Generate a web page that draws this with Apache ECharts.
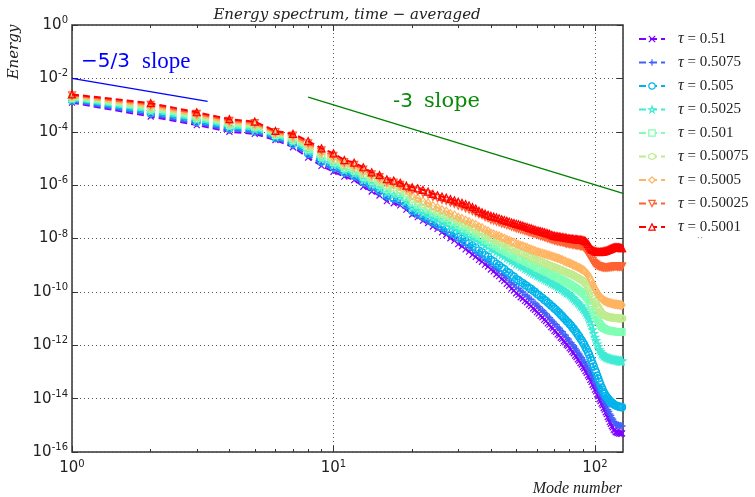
<!DOCTYPE html>
<html>
<head>
<meta charset="utf-8">
<script src="https://cdn.jsdelivr.net/npm/echarts@6.0.0/dist/echarts.min.js"></script>
<style>html,body{margin:0;padding:0;background:#fff;}#chart{width:755px;height:497px;}</style>
</head>
<body>
<div id="chart"></div>
<script>
// ---- Data (mode number k, log10 of energy) ----
const modes = [1,2,3,4,5,6,7,8,9,10,11,12,13,14,15,16,17,18,19,20,21,22,23,24,25,26,27,28,29,30,31,32,33,34,35,36,37,38,39,40,41,42,43,44,45,46,47,48,49,50,51,52,53,54,55,56,57,58,59,60,61,62,63,64,65,66,67,68,69,70,71,72,73,74,75,76,77,78,79,80,81,82,83,84,85,86,87,88,89,90,91,92,93,94,95,96,97,98,99,100,101,102,103,104,105,106,107,108,109,110,111,112,113,114,115,116,117,118,119,120,121,122,123,124,125,126,127];

const tauValues = ['0.51','0.5075','0.505','0.5025','0.501','0.50075','0.5005','0.50025','0.5001'];

const logE_0_51 = [-2.91,-3.43,-3.75,-4.00,-4.08,-4.31,-4.58,-4.97,-5.28,-5.50,-5.68,-5.81,-6.06,
-6.24,-6.39,-6.60,-6.68,-6.76,-6.92,-7.10,
-7.20,-7.33,-7.42,-7.55,-7.64,-7.77,-7.86,-7.99,-8.08,-8.21,
-8.29,-8.41,-8.49,-8.61,-8.69,-8.80,-8.87,-8.98,-9.05,-9.16,
-9.23,-9.34,-9.41,-9.52,-9.59,-9.70,-9.77,-9.88,-9.95,-10.05,
-10.11,-10.20,-10.25,-10.34,-10.39,-10.48,-10.53,-10.62,-10.67,-10.76,
-10.81,-10.90,-10.95,-11.04,-11.09,-11.18,-11.23,-11.32,-11.37,-11.46,
-11.50,-11.59,-11.63,-11.72,-11.76,-11.85,-11.89,-11.98,-12.02,-12.11,
-12.16,-12.25,-12.30,-12.39,-12.44,-12.53,-12.58,-12.67,-12.72,-12.81,
-12.87,-12.97,-13.03,-13.13,-13.19,-13.30,-13.37,-13.48,-13.55,-13.66,
-13.73,-13.84,-13.91,-14.02,-14.09,-14.19,-14.25,-14.35,-14.41,-14.51,
-14.58,-14.69,-14.76,-14.87,-14.94,-15.03,-15.08,-15.16,-15.19,-15.25,
-15.26,-15.29,-15.28,-15.31,-15.29,-15.32,-15.30];

const logE_0_5075 = [-2.87,-3.37,-3.69,-3.94,-4.02,-4.27,-4.52,-4.89,-5.20,-5.41,-5.60,-5.73,-5.97,
-6.15,-6.31,-6.50,-6.59,-6.67,-6.84,-7.05,
-7.15,-7.27,-7.36,-7.48,-7.58,-7.68,-7.77,-7.88,-7.96,-8.07,
-8.15,-8.26,-8.34,-8.44,-8.52,-8.62,-8.69,-8.80,-8.87,-8.98,
-9.05,-9.15,-9.22,-9.32,-9.39,-9.49,-9.56,-9.66,-9.73,-9.82,
-9.88,-9.96,-10.01,-10.09,-10.15,-10.23,-10.28,-10.37,-10.42,-10.50,
-10.55,-10.64,-10.69,-10.77,-10.82,-10.91,-10.96,-11.05,-11.10,-11.18,
-11.23,-11.31,-11.36,-11.44,-11.49,-11.58,-11.62,-11.71,-11.76,-11.85,
-11.90,-11.98,-12.04,-12.12,-12.18,-12.26,-12.32,-12.41,-12.46,-12.55,
-12.61,-12.70,-12.76,-12.86,-12.93,-13.03,-13.10,-13.20,-13.27,-13.38,
-13.45,-13.55,-13.62,-13.72,-13.80,-13.90,-13.97,-14.07,-14.14,-14.24,
-14.31,-14.41,-14.48,-14.57,-14.63,-14.72,-14.77,-14.85,-14.89,-14.95,
-14.97,-15.00,-14.99,-15.02,-15.01,-15.03,-15.02];

const logE_0_505 = [-2.83,-3.31,-3.63,-3.88,-3.97,-4.23,-4.46,-4.82,-5.12,-5.33,-5.53,-5.65,-5.88,
-6.05,-6.22,-6.40,-6.49,-6.58,-6.74,-6.97,
-7.06,-7.18,-7.26,-7.38,-7.47,-7.57,-7.65,-7.76,-7.83,-7.94,
-8.01,-8.11,-8.18,-8.28,-8.35,-8.45,-8.52,-8.62,-8.69,-8.80,
-8.86,-8.95,-9.01,-9.09,-9.15,-9.24,-9.29,-9.38,-9.43,-9.52,
-9.56,-9.63,-9.67,-9.74,-9.78,-9.85,-9.89,-9.96,-10.00,-10.08,
-10.12,-10.19,-10.23,-10.30,-10.34,-10.41,-10.45,-10.52,-10.56,-10.63,
-10.67,-10.74,-10.79,-10.86,-10.91,-10.98,-11.03,-11.10,-11.14,-11.21,
-11.26,-11.34,-11.39,-11.47,-11.53,-11.61,-11.67,-11.76,-11.82,-11.91,
-11.98,-12.08,-12.16,-12.26,-12.35,-12.47,-12.57,-12.69,-12.79,-12.92,
-13.02,-13.14,-13.25,-13.37,-13.47,-13.58,-13.66,-13.76,-13.82,-13.90,
-13.94,-14.00,-14.04,-14.09,-14.12,-14.16,-14.18,-14.22,-14.23,-14.26,
-14.27,-14.29,-14.29,-14.31,-14.30,-14.33,-14.32];

const logE_0_5025 = [-2.80,-3.24,-3.57,-3.83,-3.91,-4.18,-4.39,-4.74,-5.03,-5.24,-5.45,-5.57,-5.79,
-5.95,-6.11,-6.28,-6.36,-6.45,-6.60,-6.85,
-6.93,-7.04,-7.11,-7.22,-7.29,-7.38,-7.44,-7.54,-7.59,-7.68,
-7.74,-7.82,-7.88,-7.96,-8.02,-8.10,-8.15,-8.24,-8.29,-8.38,
-8.42,-8.49,-8.54,-8.61,-8.66,-8.73,-8.77,-8.84,-8.88,-8.95,
-8.98,-9.04,-9.07,-9.13,-9.16,-9.22,-9.25,-9.31,-9.33,-9.39,
-9.41,-9.46,-9.48,-9.53,-9.55,-9.60,-9.62,-9.67,-9.69,-9.73,
-9.76,-9.81,-9.83,-9.88,-9.91,-9.96,-9.99,-10.04,-10.06,-10.11,
-10.15,-10.21,-10.25,-10.31,-10.35,-10.41,-10.45,-10.52,-10.56,-10.63,
-10.68,-10.76,-10.83,-10.92,-11.01,-11.14,-11.27,-11.42,-11.56,-11.70,
-11.82,-11.95,-12.05,-12.16,-12.23,-12.31,-12.35,-12.40,-12.41,-12.44,
-12.45,-12.48,-12.48,-12.51,-12.50,-12.53,-12.53,-12.55,-12.54,-12.56,
-12.56,-12.58,-12.57,-12.59,-12.58,-12.60,-12.59];

const logE_0_501 = [-2.76,-3.18,-3.51,-3.77,-3.85,-4.14,-4.33,-4.66,-4.95,-5.15,-5.37,-5.48,-5.70,
-5.85,-6.00,-6.16,-6.23,-6.31,-6.45,-6.66,
-6.75,-6.86,-6.93,-7.04,-7.11,-7.20,-7.26,-7.36,-7.41,-7.50,
-7.56,-7.64,-7.70,-7.78,-7.84,-7.92,-7.97,-8.06,-8.11,-8.20,
-8.24,-8.30,-8.35,-8.41,-8.46,-8.52,-8.56,-8.62,-8.65,-8.71,
-8.74,-8.79,-8.82,-8.87,-8.90,-8.95,-8.97,-9.02,-9.04,-9.10,
-9.12,-9.16,-9.18,-9.22,-9.24,-9.28,-9.30,-9.35,-9.37,-9.41,
-9.43,-9.47,-9.49,-9.53,-9.55,-9.59,-9.61,-9.65,-9.67,-9.71,
-9.73,-9.78,-9.80,-9.85,-9.87,-9.92,-9.94,-9.99,-10.01,-10.06,
-10.10,-10.16,-10.21,-10.28,-10.35,-10.45,-10.55,-10.66,-10.76,-10.86,
-10.94,-11.03,-11.10,-11.18,-11.24,-11.30,-11.33,-11.37,-11.38,-11.41,
-11.42,-11.44,-11.44,-11.46,-11.45,-11.47,-11.47,-11.49,-11.48,-11.49,
-11.49,-11.51,-11.50,-11.51,-11.50,-11.52,-11.50];

const logE_0_50075 = [-2.72,-3.12,-3.45,-3.71,-3.79,-4.10,-4.27,-4.58,-4.87,-5.07,-5.29,-5.40,-5.60,
-5.75,-5.89,-6.04,-6.10,-6.18,-6.31,-6.52,
-6.61,-6.72,-6.79,-6.90,-6.97,-7.06,-7.12,-7.21,-7.26,-7.35,
-7.40,-7.48,-7.53,-7.61,-7.66,-7.74,-7.78,-7.87,-7.91,-8.00,
-8.03,-8.09,-8.12,-8.18,-8.22,-8.28,-8.31,-8.37,-8.40,-8.46,
-8.48,-8.53,-8.56,-8.61,-8.63,-8.68,-8.70,-8.75,-8.77,-8.82,
-8.84,-8.87,-8.89,-8.93,-8.94,-8.98,-9.00,-9.04,-9.05,-9.08,
-9.09,-9.13,-9.14,-9.18,-9.19,-9.23,-9.24,-9.28,-9.29,-9.31,
-9.33,-9.37,-9.38,-9.42,-9.44,-9.48,-9.49,-9.54,-9.55,-9.59,
-9.62,-9.67,-9.72,-9.79,-9.86,-9.96,-10.06,-10.16,-10.26,-10.36,
-10.44,-10.53,-10.60,-10.68,-10.74,-10.80,-10.83,-10.87,-10.88,-10.91,
-10.91,-10.94,-10.93,-10.96,-10.95,-10.97,-10.96,-10.98,-10.97,-10.98,
-10.98,-11.00,-10.99,-11.00,-10.99,-11.01,-10.99];

const logE_0_5005 = [-2.68,-3.06,-3.39,-3.65,-3.74,-4.06,-4.21,-4.51,-4.79,-4.98,-5.22,-5.32,-5.51,
-5.66,-5.79,-5.93,-5.99,-6.06,-6.18,-6.40,
-6.49,-6.60,-6.67,-6.77,-6.84,-6.92,-6.98,-7.07,-7.12,-7.20,
-7.25,-7.32,-7.37,-7.44,-7.48,-7.56,-7.60,-7.68,-7.72,-7.80,
-7.83,-7.88,-7.91,-7.96,-7.99,-8.04,-8.07,-8.12,-8.14,-8.20,
-8.22,-8.26,-8.28,-8.32,-8.34,-8.38,-8.40,-8.44,-8.46,-8.50,
-8.51,-8.54,-8.55,-8.58,-8.59,-8.62,-8.63,-8.66,-8.67,-8.70,
-8.71,-8.74,-8.75,-8.79,-8.80,-8.84,-8.85,-8.89,-8.90,-8.93,
-8.94,-8.98,-8.99,-9.03,-9.04,-9.08,-9.09,-9.13,-9.14,-9.18,
-9.21,-9.26,-9.30,-9.36,-9.43,-9.52,-9.61,-9.70,-9.79,-9.88,
-9.95,-10.03,-10.09,-10.15,-10.20,-10.25,-10.28,-10.32,-10.33,-10.36,
-10.37,-10.40,-10.40,-10.42,-10.42,-10.44,-10.44,-10.46,-10.45,-10.47,
-10.46,-10.48,-10.47,-10.49,-10.48,-10.50,-10.49];

const logE_0_50025 = [-2.64,-2.99,-3.33,-3.59,-3.68,-4.01,-4.14,-4.43,-4.70,-4.90,-5.14,-5.24,-5.42,
-5.60,-5.70,-5.86,-5.91,-5.99,-6.11,-6.18,
-6.23,-6.30,-6.35,-6.44,-6.49,-6.55,-6.59,-6.66,-6.70,-6.77,
-6.81,-6.87,-6.92,-6.98,-7.03,-7.09,-7.13,-7.20,-7.24,-7.30,
-7.33,-7.37,-7.40,-7.44,-7.46,-7.50,-7.52,-7.56,-7.58,-7.62,
-7.64,-7.67,-7.69,-7.72,-7.73,-7.77,-7.78,-7.82,-7.83,-7.86,
-7.88,-7.91,-7.92,-7.95,-7.97,-8.00,-8.01,-8.04,-8.05,-8.08,
-8.09,-8.11,-8.12,-8.14,-8.14,-8.16,-8.17,-8.19,-8.19,-8.21,
-8.21,-8.23,-8.23,-8.25,-8.25,-8.27,-8.27,-8.29,-8.29,-8.31,
-8.35,-8.41,-8.47,-8.55,-8.62,-8.70,-8.78,-8.85,-8.91,-8.95,
-8.98,-9.02,-9.03,-9.05,-9.05,-9.07,-9.07,-9.09,-9.08,-9.09,
-9.08,-9.09,-9.07,-9.08,-9.06,-9.07,-9.05,-9.06,-9.04,-9.05,
-9.04,-9.06,-9.04,-9.06,-9.05,-9.06,-9.05];

const logE_0_5001 = [-2.60,-2.93,-3.27,-3.53,-3.62,-3.97,-4.08,-4.35,-4.62,-4.81,-5.06,-5.16,-5.33,
-5.52,-5.62,-5.78,-5.83,-5.91,-6.02,-6.08,
-6.12,-6.18,-6.24,-6.33,-6.38,-6.43,-6.47,-6.52,-6.57,-6.62,
-6.66,-6.71,-6.76,-6.82,-6.88,-6.96,-7.02,-7.07,-7.11,-7.15,
-7.18,-7.21,-7.24,-7.28,-7.31,-7.34,-7.37,-7.40,-7.42,-7.45,
-7.47,-7.50,-7.52,-7.55,-7.57,-7.60,-7.62,-7.65,-7.67,-7.70,
-7.71,-7.73,-7.75,-7.77,-7.79,-7.81,-7.83,-7.86,-7.88,-7.90,
-7.91,-7.92,-7.93,-7.94,-7.95,-7.96,-7.97,-7.98,-7.99,-8.00,
-8.00,-8.01,-8.02,-8.02,-8.03,-8.03,-8.04,-8.05,-8.05,-8.06,
-8.08,-8.10,-8.14,-8.20,-8.27,-8.34,-8.40,-8.43,-8.45,-8.47,
-8.48,-8.50,-8.50,-8.51,-8.50,-8.50,-8.49,-8.48,-8.47,-8.46,
-8.45,-8.43,-8.42,-8.40,-8.38,-8.37,-8.35,-8.34,-8.33,-8.33,
-8.33,-8.34,-8.33,-8.34,-8.35,-8.36,-8.36];

// reference slope lines (mode number, energy)
const slope53X = [1, 3.3];
const slope53Y = [1.0e-2, 1.37e-3];
const slope3X = [8, 128];
const slope3Y = [2.0e-3, 4.9e-7];

const xMinorTicks = [2,3,4,5,6,7,8,9,20,30,40,50,60,70,80,90];
const xMajorTicks = [1,10,100];

// ---- styling ----
const allLogE = [logE_0_51, logE_0_5075, logE_0_505, logE_0_5025, logE_0_501, logE_0_50075, logE_0_5005, logE_0_50025, logE_0_5001];
const colors = ['#8000ff','#4062fa','#00b4eb','#40ebd4','#80ffb4','#c0eb8e','#ffb462','#ff6232','#ff0000'];
const symbols = [
  'path://M0,0L10,10M10,0L0,10',
  'path://M5,0L5,10M0,5L10,5',
  'path://M0,5A5,5,0,1,0,10,5A5,5,0,1,0,0,5Z',
  'path://M5,0L6.2,3.6L10,3.6L6.9,5.8L8.1,9.5L5,7.2L1.9,9.5L3.1,5.8L0,3.6L3.8,3.6Z',
  'path://M0,0L10,0L10,10L0,10Z',
  'path://M5,0L9.33,2.5L9.33,7.5L5,10L0.67,7.5L0.67,2.5Z',
  'path://M5,0L10,6L5,12L0,6Z',
  'path://M0,1L10,1L5,9.5Z',
  'path://M5,0.5L10,9L0,9Z'
];
const symSizes = [6,7,7,7,6,7,[6,8],7,7];

const series = allLogE.map((arr, si) => ({
  name: tauValues[si],
  type: 'line',
  data: modes.map((k, i) => [k, Math.pow(10, arr[i])]),
  symbol: symbols[si],
  symbolSize: symSizes[si],
  showAllSymbol: true,
  color: colors[si],
  lineStyle: {color: colors[si], width: 2, type: [7, 4]},
  itemStyle: {color: 'rgba(255,255,255,0)', borderColor: colors[si], borderWidth: 1.2},
  emphasis: {disabled: true},
  z: 3 + si
}));

series.push({
  name: 'slope53', type: 'line', symbol: 'none', silent: true,
  data: slope53X.map((x, i) => [x, slope53Y[i]]),
  lineStyle: {color: '#0000ff', width: 1.3}, z: 20
});
series.push({
  name: 'slope3', type: 'line', symbol: 'none', silent: true,
  data: slope3X.map((x, i) => [x, slope3Y[i]]),
  lineStyle: {color: '#008000', width: 1.3}, z: 20
});

function powLabel(v) {
  const e = Math.round(Math.log10(v));
  return '{b|10}{s|' + e + '}';
}
const labelRich = {
  b: {fontFamily: 'DejaVu Sans', fontSize: 15, color: '#222'},
  s: {fontFamily: 'DejaVu Sans', fontSize: 10, color: '#222', verticalAlign: 'bottom', padding: [0, 0, 9, 0]}
};

const chart = echarts.init(document.getElementById('chart'), null, {renderer: 'canvas'});
chart.setOption({
  animation: false,
  backgroundColor: '#fff',
  grid: {left: 72, right: 132, top: 25, bottom: 45, show: true, borderColor: '#333', borderWidth: 1.5, backgroundColor: 'transparent'},
  legend: {
    data: tauValues,
    orient: 'vertical', left: 633, top: 26,
    itemWidth: 26, itemHeight: 8, itemGap: 7.5,
    itemStyle: {color: '#ffffff', borderWidth: 1.2},
    formatter: name => '{t|τ}{n| = ' + name + '}',
    textStyle: {
      color: '#222', fontSize: 15, lineHeight: 16,
      rich: {
        t: {fontFamily: 'Liberation Serif', fontStyle: 'italic', fontSize: 16, padding: [0, 0, 0, 8]},
        n: {fontFamily: 'Liberation Serif', fontSize: 15}
      }
    }
  },
  xAxis: [
    {type: 'log', logBase: 10, min: 1, max: 128, gridIndex: 0, position: 'bottom',
     axisLine: {show: false},
     axisTick: {show: true, inside: true, length: 6, lineStyle: {color: '#333', width: 1}},
     axisLabel: {formatter: powLabel, rich: labelRich, margin: 7, showMaxLabel: false},
     splitLine: {show: true, lineStyle: {color: '#555', type: [1, 3], width: 1}},
     minorTick: {show: false}},
    {type: 'log', logBase: 10, min: 1, max: 128, gridIndex: 0, position: 'bottom',
     axisLine: {show: false}, axisLabel: {show: false}, splitLine: {show: false},
     axisTick: {show: true, inside: true, length: 3, customValues: xMinorTicks, lineStyle: {color: '#333', width: 1}}},
    {type: 'log', logBase: 10, min: 1, max: 128, gridIndex: 0, position: 'top',
     axisLine: {show: false}, axisLabel: {show: false}, splitLine: {show: false},
     axisTick: {show: true, inside: true, length: 6, customValues: xMajorTicks, lineStyle: {color: '#333', width: 1}}},
    {type: 'log', logBase: 10, min: 1, max: 128, gridIndex: 0, position: 'top',
     axisLine: {show: false}, axisLabel: {show: false}, splitLine: {show: false},
     axisTick: {show: true, inside: true, length: 3, customValues: xMinorTicks, lineStyle: {color: '#333', width: 1}}}
  ],
  yAxis: [
    {type: 'log', logBase: 10, min: 1e-16, max: 1, splitNumber: 8, interval: 2, gridIndex: 0, position: 'left',
     axisLine: {show: false},
     axisTick: {show: true, inside: true, length: 6, lineStyle: {color: '#333'}},
     axisLabel: {formatter: powLabel, rich: labelRich, margin: 4},
     splitLine: {show: true, lineStyle: {color: '#555', type: [1, 3], width: 1}}},
    {type: 'log', logBase: 10, min: 1e-16, max: 1, splitNumber: 8, interval: 2, gridIndex: 0, position: 'right',
     axisLine: {show: false}, axisLabel: {show: false}, splitLine: {show: false},
     axisTick: {show: true, inside: true, length: 6, lineStyle: {color: '#333'}}}
  ],
  series: series,
  graphic: [
    {type: 'text', x: 347, y: 15, style: {text: 'Energy spectrum, time − averaged', font: 'italic 15px "DejaVu Serif"', fill: '#222', align: 'center', verticalAlign: 'middle'}},
    {type: 'text', x: 14, y: 52, rotation: Math.PI / 2, style: {text: 'Energy', font: 'italic 15px "DejaVu Serif"', fill: '#222', align: 'center', verticalAlign: 'middle'}},
    {type: 'text', x: 622, y: 489, style: {text: 'Mode number', font: 'italic 16px "Liberation Serif"', fill: '#222', align: 'right', verticalAlign: 'middle'}},
    {type: 'text', x: 81, y: 62, style: {text: '{a|−5/3}{g| }{b|slope}', fill: '#0000ff', verticalAlign: 'middle',
      rich: {a: {fontFamily: 'DejaVu Sans', fontSize: 20, fill: '#0000ff'}, g: {fontSize: 10, width: 12}, b: {fontFamily: 'Liberation Serif', fontSize: 23, fill: '#0000ff'}}}},
    {type: 'text', x: 393, y: 102, style: {text: '{a|-3}{g| }{b|slope}', fill: '#0a8a0a', verticalAlign: 'middle',
      rich: {a: {fontFamily: 'DejaVu Sans', fontSize: 20, fill: '#0a8a0a'}, g: {fontSize: 10, width: 11}, b: {fontFamily: 'DejaVu Serif', fontSize: 21, fill: '#0a8a0a'}}}},
    {type: 'text', x: 700, y: 238, style: {text: '··', font: '10px "DejaVu Sans"', fill: '#999', align: 'center', verticalAlign: 'middle'}}
  ]
});
</script>
</body>
</html>
